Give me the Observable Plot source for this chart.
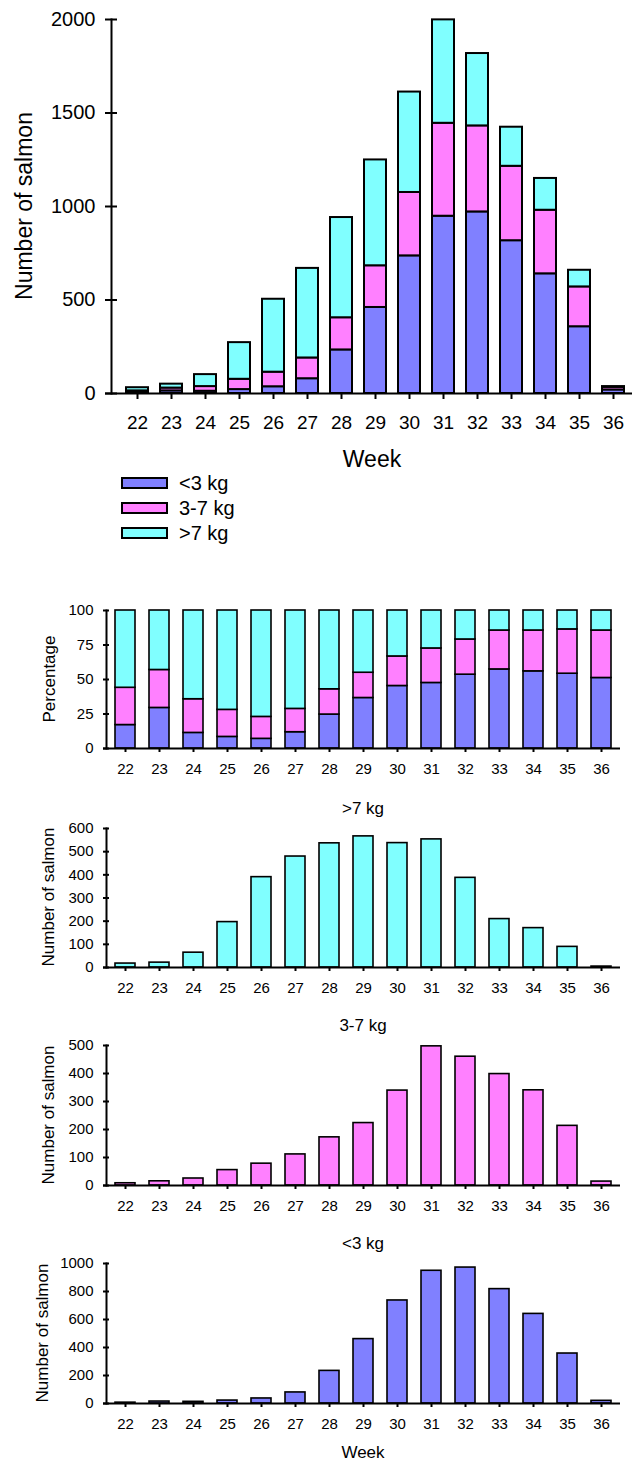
<!DOCTYPE html>
<html>
<head>
<meta charset="utf-8">
<script src="https://cdn.jsdelivr.net/npm/d3@7"></script>
<script src="https://cdn.jsdelivr.net/npm/@observablehq/plot@0.6"></script>
<style>
html, body { margin: 0; padding: 0; background: #fff; overflow: hidden; }
#root { position: relative; width: 632px; height: 1463px; font-family: "Liberation Sans", Arial, sans-serif; color: #000; }
#root svg { position: absolute; left: 0; }
.lbl { position: absolute; white-space: nowrap; transform: translate(-50%, -50%); line-height: 1; }
.ylbl { position: absolute; white-space: nowrap; transform: translate(-50%, -50%) rotate(-90deg); line-height: 1; }
.sw { position: absolute; box-sizing: border-box; border: 2px solid #000; }
.lt { position: absolute; white-space: nowrap; transform: translateY(-50%); line-height: 1; }
</style>
</head>
<body>
<div id="root"></div>
<script>
// ---- data ----
const weeks = [22, 23, 24, 25, 26, 27, 28, 29, 30, 31, 32, 33, 34, 35, 36];
const classes = ["<3 kg", "3-7 kg", ">7 kg"];
const classColors = ["#8080ff", "#ff80ff", "#80ffff"];

const countSmall = [6, 14, 12, 21, 36, 79, 233, 460, 736, 948, 971, 817, 640, 357, 19];
const countMid   = [8, 15, 25, 55, 78, 111, 172, 223, 339, 497, 460, 398, 340, 213, 14];
const countLarge = [17, 21, 64, 196, 390, 479, 536, 566, 537, 553, 387, 209, 170, 89, 4];

const pctSmall = [17, 29.4, 11.3, 8.4, 7, 11.8, 24.6, 36.6, 45.3, 47.5, 53.5, 57.3, 55.9, 54.2, 51.1];
const pctMid   = [27, 27.5, 24.4, 19.6, 15.9, 16.9, 18.3, 18.3, 21.4, 25, 25.5, 28.2, 29.6, 32.1, 34.4];
const pctLarge = [56, 43.1, 64.3, 72, 77.1, 71.3, 57.1, 45.1, 33.3, 27.5, 21, 14.5, 14.5, 13.7, 14.5];

const totalTicks = [0, 500, 1000, 1500, 2000];
const pctTicks = [0, 25, 50, 75, 100];
const largeTicks = [0, 100, 200, 300, 400, 500, 600];
const midTicks = [0, 100, 200, 300, 400, 500];
const smallTicks = [0, 200, 400, 600, 800, 1000];

function longData(series) {
  const out = [];
  series.forEach((arr, ci) => arr.forEach((v, i) => out.push({week: weeks[i], cls: classes[ci], value: v})));
  return out;
}

const root = document.getElementById("root");
const FONT = '"Liberation Sans", Arial, sans-serif';

function chart(o) {
  const svg = Plot.plot({
    width: 632,
    height: o.height,
    marginTop: o.marginTop,
    marginBottom: o.marginBottom,
    marginLeft: o.marginLeft,
    marginRight: o.marginRight,
    style: {background: "transparent", overflow: "visible", fontFamily: FONT},
    x: {type: "band", domain: weeks, range: o.xRange, paddingInner: o.pi, paddingOuter: o.po, align: 0.5},
    y: {domain: o.yDomain},
    color: {domain: classes, range: classColors},
    marks: [
      Plot.barY(o.data, {x: "week", y: "value", fill: "cls", stroke: "#000", strokeWidth: o.barStroke}),
      Plot.ruleY([0], {insetLeft: -o.yTick, stroke: "#000", strokeWidth: o.axisWidth}),
      Plot.frame({anchor: "left", stroke: "#000", strokeWidth: o.axisWidth}),
      Plot.axisY(o.yTicks, {tickSize: 2 * o.yTick, dx: o.yTick, tickPadding: o.yPad, label: null,
        fontSize: o.fontSize, strokeWidth: o.axisWidth, tickFormat: d => String(d)}),
      Plot.axisX(weeks, {tickSize: o.xTick, tickPadding: o.xPad, label: null,
        fontSize: o.xFontSize || o.fontSize, strokeWidth: o.axisWidth})
    ]
  });
  svg.style.top = o.top + "px";
  root.appendChild(svg);
}

function label(text, cx, cy, size, rotate) {
  const d = document.createElement("div");
  d.className = rotate ? "ylbl" : "lbl";
  d.textContent = text;
  d.style.left = cx + "px";
  d.style.top = cy + "px";
  d.style.fontSize = size + "px";
  root.appendChild(d);
}

// ---- top stacked chart ----
chart({
  top: 0, height: 440, marginTop: 19, marginBottom: 47, marginLeft: 111, marginRight: 0,
  xRange: [111, 639.6], pi: 0.34, po: 0.243,
  yDomain: [0, 2000], yTicks: totalTicks,
  data: longData([countSmall, countMid, countLarge]),
  barStroke: 2, axisWidth: 2, yTick: 6, yPad: 10, xTick: 6, xPad: 16, fontSize: 20, xFontSize: 19
});
label("Number of salmon", 24, 206, 23, true);
label("Week", 372, 459, 23, false);

// legend
classes.forEach((c, i) => {
  const y = 477 + i * 25;
  const s = document.createElement("div");
  s.className = "sw";
  s.style.left = "121px"; s.style.top = y + "px";
  s.style.width = "47px"; s.style.height = "12px";
  s.style.background = classColors[i];
  root.appendChild(s);
  const t = document.createElement("div");
  t.className = "lt";
  t.textContent = c;
  t.style.left = "179px"; t.style.top = (y + 6) + "px";
  t.style.fontSize = "20px";
  root.appendChild(t);
});

const lower = {
  height: 200, marginLeft: 106, marginRight: 12,
  xRange: [105.7, 619.3], pi: 0.416, po: 0.204,
  barStroke: 1.6, axisWidth: 2, yTick: 3, yPad: 10, xTick: 4, xPad: 11, fontSize: 15
};

// ---- percentage chart ----
chart({...lower, top: 590, marginTop: 20, marginBottom: 42,
  yDomain: [0, 100], yTicks: pctTicks, data: longData([pctSmall, pctMid, pctLarge])});
label("Percentage", 49, 679, 17, true);

// ---- >7 kg ----
label(">7 kg", 363, 808, 17, false);
chart({...lower, top: 810, marginTop: 18, marginBottom: 43,
  yDomain: [0, 600], yTicks: largeTicks,
  data: countLarge.map((v, i) => ({week: weeks[i], cls: classes[2], value: v}))});
label("Number of salmon", 48, 897, 17, true);

// ---- 3-7 kg ----
label("3-7 kg", 363, 1025, 17, false);
chart({...lower, top: 1030, marginTop: 15, marginBottom: 45,
  yDomain: [0, 500], yTicks: midTicks,
  data: countMid.map((v, i) => ({week: weeks[i], cls: classes[1], value: v}))});
label("Number of salmon", 48, 1115, 17, true);

// ---- <3 kg ----
label("<3 kg", 363, 1243, 17, false);
chart({...lower, top: 1245, marginTop: 18, marginBottom: 42,
  yDomain: [0, 1000], yTicks: smallTicks,
  data: countSmall.map((v, i) => ({week: weeks[i], cls: classes[0], value: v}))});
label("Number of salmon", 42, 1333, 17, true);
label("Week", 363, 1452, 17, false);
</script>
</body>
</html>
